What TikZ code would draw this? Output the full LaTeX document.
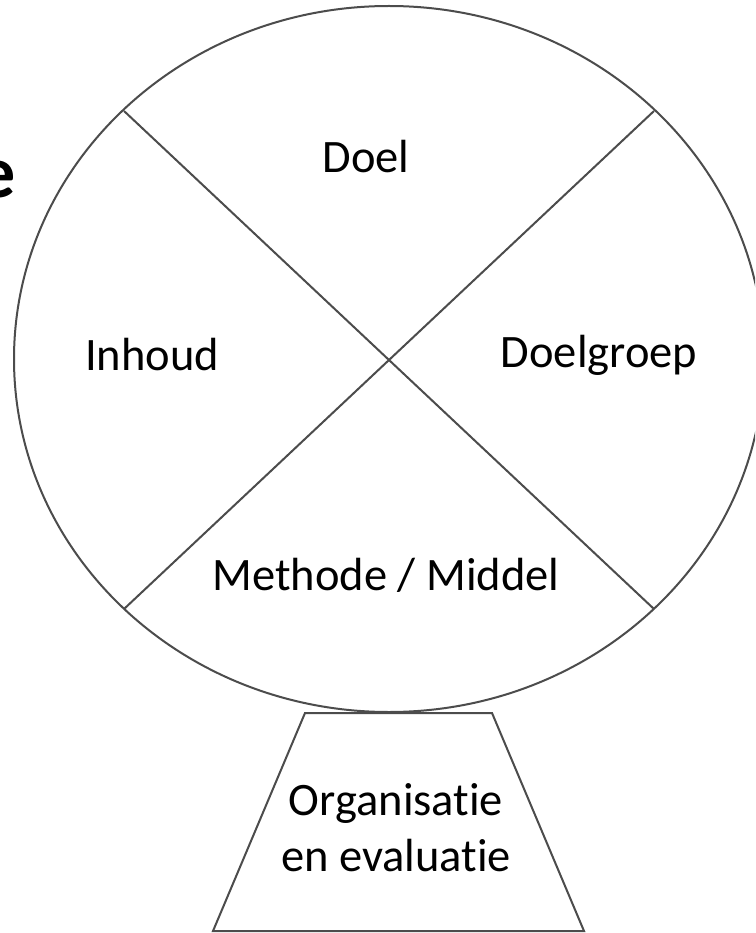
\documentclass[tikz,border=0pt]{standalone}
\usepackage{fontspec}
\setmainfont{Carlito}[Ligatures=NoCommon]
\begin{document}
\begin{tikzpicture}[x=1pt,y=-1pt,
  outline/.style={draw=black!70,line width=2pt},
  lbl/.style={inner sep=0pt,font=\fontsize{46.5}{56}\selectfont,align=center}]
\useasboundingbox (0,0) rectangle (755,933);
\clip (0,0) rectangle (755,933);
\fill[white] (0,0) rectangle (755,933);
\coordinate (c) at (389,359);
\path (c) ++(-265,-248) coordinate (tl);
\path (c) ++(265,-248) coordinate (tr);
\path (c) ++(-265,250) coordinate (bl);
\path (c) ++(265,250) coordinate (br);
\draw[outline] (c) ellipse [x radius=375, y radius=353];
\draw[outline] (tl) -- (br);
\draw[outline] (tr) -- (bl);
\coordinate (t1) at (305,713);
\coordinate (t2) at (492,713);
\coordinate (b2) at (584,931);
\coordinate (b1) at (213,931);
\draw[outline] (t1) -- (t2) -- (b2) -- (b1) -- cycle;
\node[lbl] (doel) at (366,157) {Doel};
\node[lbl] (inhoud) at (152,355) {Inhoud};
\node[lbl] (dg) at (599,355) {Doelgroep};
\node[lbl] (mm) at (386,575) {Methode / Middel};
\node[lbl] (org) at (396,828) {Organisatie\\en evaluatie};
\node[inner sep=0pt,anchor=base east,font=\fontsize{74}{80}\selectfont\bfseries] (title) at (16,198) {e};
\end{tikzpicture}
\end{document}
